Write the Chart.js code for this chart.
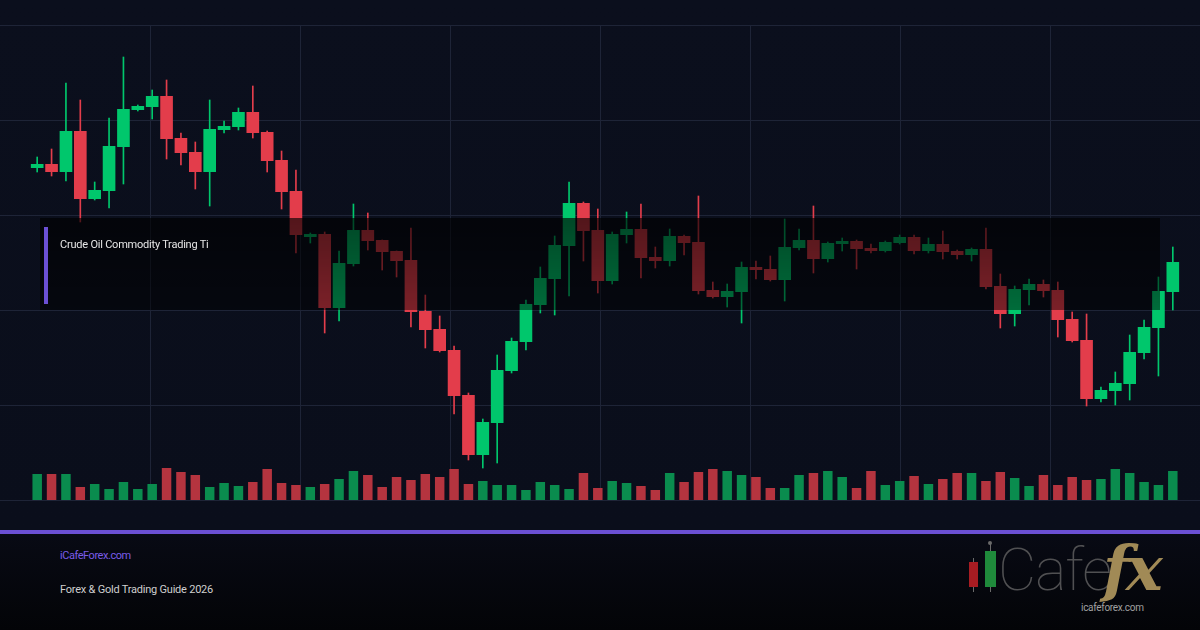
<!DOCTYPE html>
<html>
<head>
<meta charset="utf-8">
<script src="https://cdn.jsdelivr.net/npm/chart.js@4"></script>
<style>
  html, body { margin:0; padding:0; }
  body { width:1200px; height:630px; overflow:hidden; position:relative;
         background: linear-gradient(to bottom, #0b0f1d 0px, #0a0e1b 530px, #080a14 535px, #030407 630px);
         font-family: 'Roboto', 'Noto Sans', sans-serif; }
  #c { position:absolute; left:0; top:0; }
  .abs { position:absolute; }
  #box { left:40px; top:218px; width:1120px; height:92px;
         background: linear-gradient(to bottom, rgba(0,0,0,0.64), rgba(0,0,0,0.46)); }
  #boxbar { left:44px; top:227px; width:4px; height:77px; background:#6b50d4; }
  #boxtxt { left:60px; top:238px; font-size:11px; line-height:14px; color:#e6e6e6; white-space:nowrap; letter-spacing:-0.22px; }
  #rule { left:0; top:530px; width:1200px; height:4px; background:#6b50d4; }
  #site { left:60px; top:549px; font-size:11px; line-height:14px; color:#7a5ce8; letter-spacing:-0.45px; }
  #guide { left:60px; top:583px; font-size:11px; line-height:14px; color:#cfcfcf; letter-spacing:-0.22px; }
  #cafe { left:998px; top:540px; font-size:59px; line-height:59px; font-weight:100; color:#505052; letter-spacing:-1px; }
  #fx { left:1103px; top:538px; font-size:62px; line-height:62px; font-family:'DejaVu Serif', serif; font-style:italic; font-weight:bold; color:#a18a56; letter-spacing:-4px; }
  #logourl { left:1081px; top:602px; font-size:10px; line-height:12px; color:#a0a0a0; letter-spacing:-0.3px; }
</style>
</head>
<body>
<canvas id="c" width="1200" height="530"></canvas>
<div id="box" class="abs"></div>
<div id="boxbar" class="abs"></div>
<div id="boxtxt" class="abs">Crude Oil Commodity Trading Ti</div>
<div id="rule" class="abs"></div>
<div id="site" class="abs">iCafeForex.com</div>
<div id="guide" class="abs">Forex &amp; Gold Trading Guide 2026</div>
<div class="abs" style="left:973px;top:558px;width:1px;height:34px;background:#6a6a6a"></div>
<div class="abs" style="left:969px;top:562px;width:9px;height:25px;background:#a81c22"></div>
<div class="abs" style="left:990px;top:543px;width:1px;height:49px;background:#6a6a6a"></div>
<div class="abs" style="left:988px;top:541px;width:4px;height:4px;border-radius:2px;background:#6a6a6a"></div>
<div class="abs" style="left:985px;top:551px;width:11px;height:36px;background:#1f8a3b"></div>
<div id="cafe" class="abs">Cafe</div>
<div id="fx" class="abs">fx</div>
<div id="logourl" class="abs">icafeforex.com</div>
<script>
const categories = ['1','2','3','4','5','6','7','8','9','10','11','12','13','14','15','16','17','18','19','20',
  '21','22','23','24','25','26','27','28','29','30','31','32','33','34','35','36','37','38','39','40',
  '41','42','43','44','45','46','47','48','49','50','51','52','53','54','55','56','57','58','59','60',
  '61','62','63','64','65','66','67','68','69','70','71','72','73','74','75','76','77','78','79','80'];

const open = [83.2,83.6,82.8,86.9,80.1,80.9,85.3,89.0,89.3,90.4,
  86.2,84.8,82.8,87.0,87.3,88.8,86.8,84.0,80.9,76.3,
  76.6,69.2,73.6,77.0,76.0,74.9,74.0,68.9,67.1,65.0,
  60.5,54.5,57.7,62.9,65.8,69.5,72.1,75.4,79.7,77.0,
  71.9,76.5,77.1,74.3,73.9,76.4,75.8,71.0,70.3,70.8,
  73.3,73.1,72.0,75.2,76.0,74.1,75.6,75.9,75.2,74.9,
  75.7,76.3,74.9,75.6,74.9,74.5,75.1,71.4,68.6,71.0,
  71.6,71.0,68.1,66.0,60.1,60.9,61.6,64.7,67.2,70.8];
const high = [84.3,85.1,91.7,90.0,81.8,88.2,94.3,89.5,91.0,92.0,
  86.7,85.8,90.0,87.9,89.2,91.4,86.9,84.9,83.0,76.7,
  76.8,74.9,79.6,78.7,76.0,74.9,77.2,70.5,68.4,65.4,
  60.7,58.1,64.5,66.2,70.0,73.3,76.4,81.8,79.8,79.1,
  76.8,78.8,79.6,75.3,77.1,76.5,80.4,71.8,71.6,73.8,
  73.9,74.4,78.1,77.1,79.4,75.8,76.2,76.0,75.6,75.9,
  76.5,76.5,76.2,76.9,75.0,75.2,77.2,72.6,71.4,72.1,
  72.0,71.8,68.8,68.6,61.3,62.8,66.5,68.0,72.3,75.3];
const low = [82.8,82.4,81.9,77.8,80.0,79.2,81.6,88.9,88.1,84.1,
  83.5,81.1,79.4,86.7,87.0,86.2,82.8,79.1,74.7,75.7,
  66.7,67.9,73.4,75.0,73.0,72.3,67.3,65.2,64.8,58.6,
  54.0,53.2,53.7,62.7,65.0,68.7,68.5,70.4,73.9,70.7,
  71.6,75.7,72.2,73.2,73.4,74.5,70.6,70.2,69.3,67.7,
  72.1,71.9,69.9,75.0,72.7,73.8,74.9,73.1,74.7,74.8,
  75.6,74.6,74.7,74.1,74.1,73.9,71.1,67.2,67.4,69.5,
  70.3,66.3,65.8,59.4,59.8,59.5,60.0,64.1,62.4,69.0];
const close = [83.6,82.8,86.9,80.1,81.0,85.4,89.1,89.4,90.4,86.1,
  84.7,82.8,87.1,87.4,88.8,86.7,83.9,80.8,76.5,76.6,
  69.2,73.7,77.0,75.9,74.8,73.9,68.8,67.0,64.9,60.4,
  54.5,57.8,63.0,65.9,69.6,72.2,75.5,79.7,76.9,71.9,
  76.6,77.1,74.2,73.9,76.4,75.7,70.9,70.3,70.9,73.3,
  73.0,72.0,75.3,76.0,74.1,75.7,75.9,75.1,74.9,75.8,
  76.3,74.9,75.6,74.8,74.5,75.1,71.3,68.6,71.1,71.6,
  70.9,68.0,65.9,60.1,61.0,61.7,64.8,67.3,70.9,73.8];
const volume = [260,260,260,130,160,110,180,110,160,320,
  280,250,130,170,140,180,310,170,150,130,
  160,210,290,250,130,230,200,260,230,310,
  160,190,150,150,100,180,150,110,270,120,
  190,170,140,100,270,180,280,310,290,250,
  230,120,120,250,270,290,230,120,290,150,
  190,240,160,210,270,270,190,280,220,140,
  250,150,230,200,210,310,270,180,150,290];
const priceTicks = [50, 59.5, 69, 78.5, 88, 97.5];
const timeColumns = 8;

const UP = '#00c76c', DOWN = '#e33d4b', VUP = '#0a8c4e', VDOWN = '#b5343f';
const isUp = i => close[i] >= open[i];

const gridPlugin = {
  id: 'gridPlugin',
  beforeDatasetsDraw(chart) {
    const ctx = chart.ctx, ys = chart.scales.y;
    ctx.save();
    ctx.strokeStyle = '#1e2437';
    ctx.lineWidth = 1;
    ctx.beginPath();
    ys.ticks.forEach(t => {
      const y = Math.round(ys.getPixelForValue(t.value)) + 0.5;
      ctx.moveTo(0, y); ctx.lineTo(chart.width, y);
    });
    const top = ys.getPixelForValue(ys.max), bot = ys.getPixelForValue(ys.min);
    for (let k = 1; k < timeColumns; k++) {
      const x = Math.round(chart.width * k / timeColumns) + 0.5;
      ctx.moveTo(x, top); ctx.lineTo(x, bot);
    }
    ctx.stroke();
    ctx.restore();
  }
};

new Chart(document.getElementById('c'), {
  type: 'bar',
  data: {
    labels: categories,
    datasets: [
      {
        label: 'body',
        data: open.map((o, i) => [o, close[i]]),
        backgroundColor: open.map((o, i) => isUp(i) ? UP : DOWN),
        barPercentage: 0.88, categoryPercentage: 1, grouped: false,
        minBarLength: 1, order: 0, yAxisID: 'y'
      },
      {
        label: 'wick',
        data: low.map((l, i) => [l, high[i]]),
        backgroundColor: low.map((l, i) => isUp(i) ? UP : DOWN),
        barThickness: 1, grouped: false, order: 1, yAxisID: 'y'
      },
      {
        label: 'volume',
        data: volume,
        backgroundColor: volume.map((v, i) => isUp(i) ? VUP : VDOWN),
        barPercentage: 0.66, categoryPercentage: 1, grouped: false,
        order: 2, yAxisID: 'yv'
      }
    ]
  },
  options: {
    responsive: false,
    animation: false,
    events: [],
    layout: { padding: { left: 30, right: 20, top: 25, bottom: 30 } },
    plugins: { legend: { display: false }, tooltip: { enabled: false } },
    scales: {
      x: { type: 'category', offset: true, display: false },
      y: { type: 'linear', min: 50, max: 97.5, display: false,
           afterBuildTicks: s => { s.ticks = priceTicks.map(v => ({ value: v })); } },
      yv: { type: 'linear', min: 0, max: 4750, display: false }
    }
  },
  plugins: [gridPlugin]
});
</script>
</body>
</html>
